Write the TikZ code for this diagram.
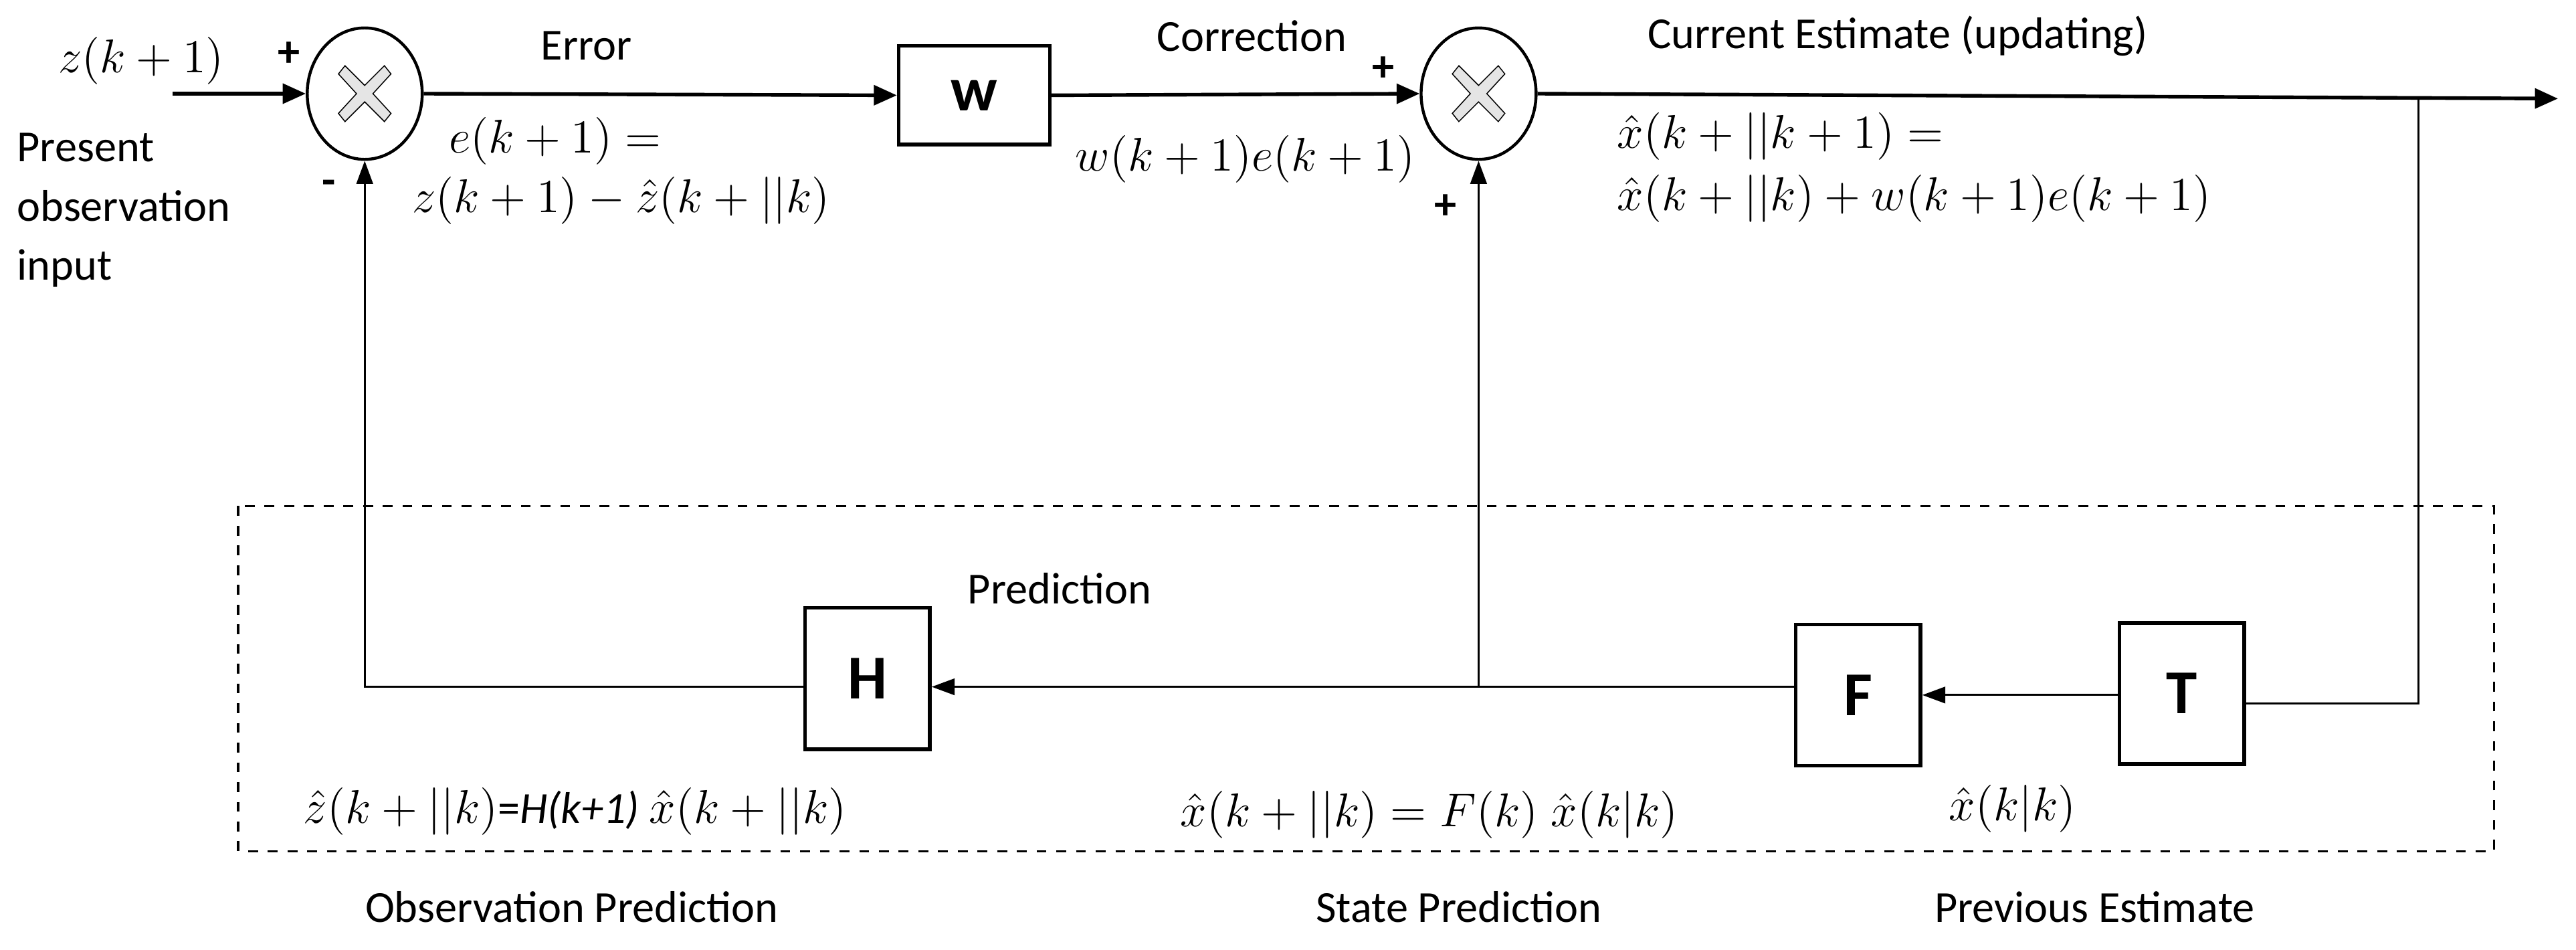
\documentclass[tikz,border=0pt]{standalone}
\usepackage{fontspec}
\setmainfont{Carlito}
\usetikzlibrary{arrows.meta,shapes.geometric}
\begin{document}
\begin{tikzpicture}[x=0.5pt,y=-0.5pt,font=\fontsize{13.5}{15}\selectfont,
  box/.style={draw,line width=1.1pt,minimum width=38pt,minimum height=43pt,font=\fontsize{19}{20}\selectfont\bfseries},
  sum/.style={draw,ellipse,line width=0.9pt,minimum width=35pt,minimum height=40pt,inner sep=0pt},
  thick arr/.style={line width=1.1pt,-{Triangle[length=7pt,width=6pt]}},
  thin arr/.style={line width=0.6pt,-{Triangle[length=7pt,width=5pt]}},
  thin/.style={line width=0.6pt},
  lbl/.style={inner sep=1pt}]
\useasboundingbox (0,0) rectangle (1568,578);
% summing junctions
\node[sum] (s1) at (222,57) {};
\node[sum] (s2) at (900,57) {};
\foreach \c in {s1,s2}{
  \fill[gray!20,draw=black,line width=0.3pt,shift={(\c)}]
   (-12,-17)--(0,-5)--(12,-17)--(16,-12)--(5,0)--(16,12)--(12,17)--(0,5)--(-12,17)--(-16,12)--(-5,0)--(-16,-12)--cycle;}
% boxes
\node[box,minimum width=46pt,minimum height=30pt] (W) at (593,58) {w};
\node[box] (T) at (1328,422) {T};
\node[box] (F) at (1131,423) {F};
\node[box] (H) at (528,413) {H};
% coordinates
\coordinate (in) at (105,57);
\coordinate (out) at (1557,60);
\coordinate (j1) at (1472,60);
\coordinate (j2) at (1472,428);
\coordinate (j3) at (900,418);
\coordinate (j4) at (222,418);
% connectors
\draw[thick arr] (in) -- (s1.west);
\draw[thick arr] (s1.east) -- (W.west);
\draw[thick arr] (W.east) -- (s2.west);
\draw[thick arr] (s2.east) -- (out);
\draw[thin] (j1) -- (j2) -- (T.east |- j2);
\draw[thin arr] (T.west |- F) -- (F.east);
\draw[thin arr] (F.west |- j3) -- (H.east |- j3);
\draw[thin arr] (j3) -- (s2.south);
\draw[thin arr] (H.west |- j4) -- (j4) -- (s1.south);
% dashed frame
\draw[dashed,line width=0.7pt] (145,308) rectangle (1518,518);
% texts
\node[lbl] (t1) at (86,37) {$z(k+1)$};
\node[lbl] (t2) at (176,33) {\textbf{+}};
\node[lbl,align=left,anchor=west] (t3) at (8,128) {Present\\[3pt]observation\\[3pt]input};
\node[lbl] (t4) at (200,114) {\textbf{-}};
\node[lbl] (t5) at (357,28) {Error};
\node[lbl] (t6) at (338,86) {$e(k+1)=$};
\node[lbl] (t7) at (378,122) {$z(k+1)-\hat z(k+||k)$};
\node[lbl] (t8) at (762,22) {Correction};
\node[lbl] (t9) at (842,42) {\textbf{+}};
\node[lbl] (t10) at (758,97) {$w(k+1)e(k+1)$};
\node[lbl] (t11) at (880,126) {\textbf{+}};
\node[lbl] (t12) at (1155,22) {Current Estimate (updating)};
\node[lbl,anchor=west] (t13) at (982,83) {$\hat x(k+||k+1)=$};
\node[lbl,anchor=west] (t14) at (982,121) {$\hat x(k+||k)+w(k+1)e(k+1)$};
\node[lbl] (t15) at (645,358) {Prediction};
\node[lbl] (t16) at (350,494) {$\hat z(k+||k)$=\textit{H(k+1)} $\hat x(k+||k)$};
\node[lbl] (t17) at (870,496) {$\hat x(k+||k)=F(k)\;\hat x(k|k)$};
\node[lbl] (t18) at (1225,492) {$\hat x(k|k)$};
\node[lbl] (t19) at (348,552) {Observation Prediction};
\node[lbl] (t20) at (888,552) {State Prediction};
\node[lbl] (t21) at (1275,552) {Previous Estimate};
\end{tikzpicture}
\end{document}
